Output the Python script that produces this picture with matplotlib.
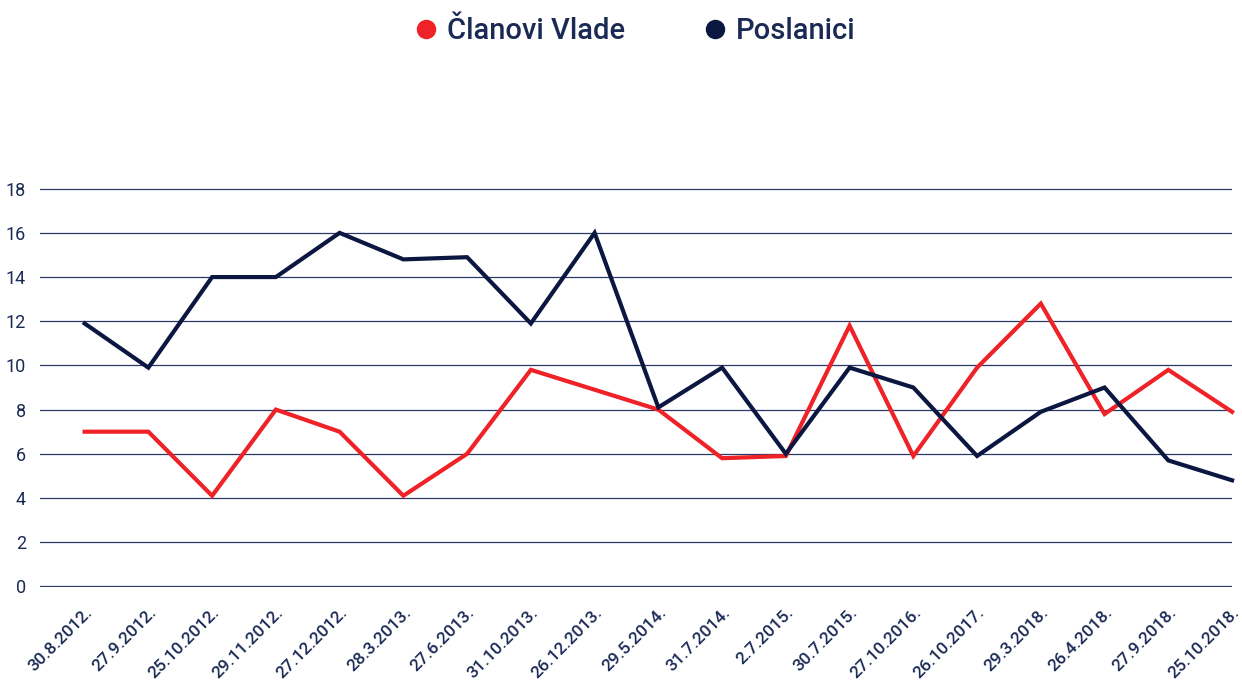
import matplotlib
matplotlib.use("Agg")
import matplotlib.pyplot as plt
from matplotlib.lines import Line2D

plt.rcParams["font.family"] = ["Roboto", "DejaVu Sans"]

dates = ["30.8.2012.", "27.9.2012.", "25.10.2012.", "29.11.2012.", "27.12.2012.",
         "28.3.2013.", "27.6.2013.", "31.10.2013.", "26.12.2013.", "29.5.2014.",
         "31.7.2014.", "2.7.2015.", "30.7.2015.", "27.10.2016.", "26.10.2017.",
         "29.3.2018.", "26.4.2018.", "27.9.2018.", "25.10.2018."]
clanovi_vlade = [7, 7, 4.1, 8, 7, 4.1, 6, 9.8, 8.9, 8, 5.8, 5.9, 11.8, 5.9, 9.9,
                 12.8, 7.8, 9.8, 7.9]
poslanici = [11.9, 9.9, 14, 14, 16, 14.8, 14.9, 11.9, 16, 8.1, 9.9, 6, 9.9, 9,
             5.9, 7.9, 9.0, 5.7, 4.8]

RED = "#ee2227"
NAVY = "#0b1740"
TXT = "#1b2a55"

fig = plt.figure(figsize=(12.42, 6.88), dpi=100)
ax = fig.add_axes([0.0322, 0.1468, 0.9598, 0.5799])

x = list(range(len(dates)))
ax.plot(x, clanovi_vlade, color=RED, lw=3.0, solid_joinstyle="miter", zorder=3, clip_on=False)
ax.plot(x, poslanici, color=NAVY, lw=3.0, solid_joinstyle="miter", zorder=4, clip_on=False)

ax.set_ylim(-0.03, 18.03)
ax.set_xlim(-0.7, 18)
ax.set_yticks(range(0, 19, 2))
ax.yaxis.grid(True, color="#2a3a66", lw=0.9)
ax.set_axisbelow(True)
for s in ax.spines.values():
    s.set_visible(False)
ax.tick_params(axis="y", length=0, pad=10, labelsize=13, labelcolor=TXT)
ax.tick_params(axis="x", length=0, pad=13, labelsize=12.5, labelcolor=TXT)
ax.set_xticks(x)
ax.set_xticklabels(dates, rotation=45, ha="right", va="top", rotation_mode="anchor",
                   fontweight="medium")

handles = [Line2D([], [], marker="o", ls="", color=RED, markersize=13),
           Line2D([], [], marker="o", ls="", color=NAVY, markersize=13)]
leg = fig.legend(handles, ["Članovi Vlade", "Poslanici"], loc="center",
                 bbox_to_anchor=(0.51, 0.955), ncol=2, frameon=False,
                 prop={"size": 21, "weight": "medium"}, handletextpad=0.2,
                 columnspacing=2.6, handlelength=1.0)
for t in leg.get_texts():
    t.set_color(TXT)

fig.savefig("out.png", dpi=100)
